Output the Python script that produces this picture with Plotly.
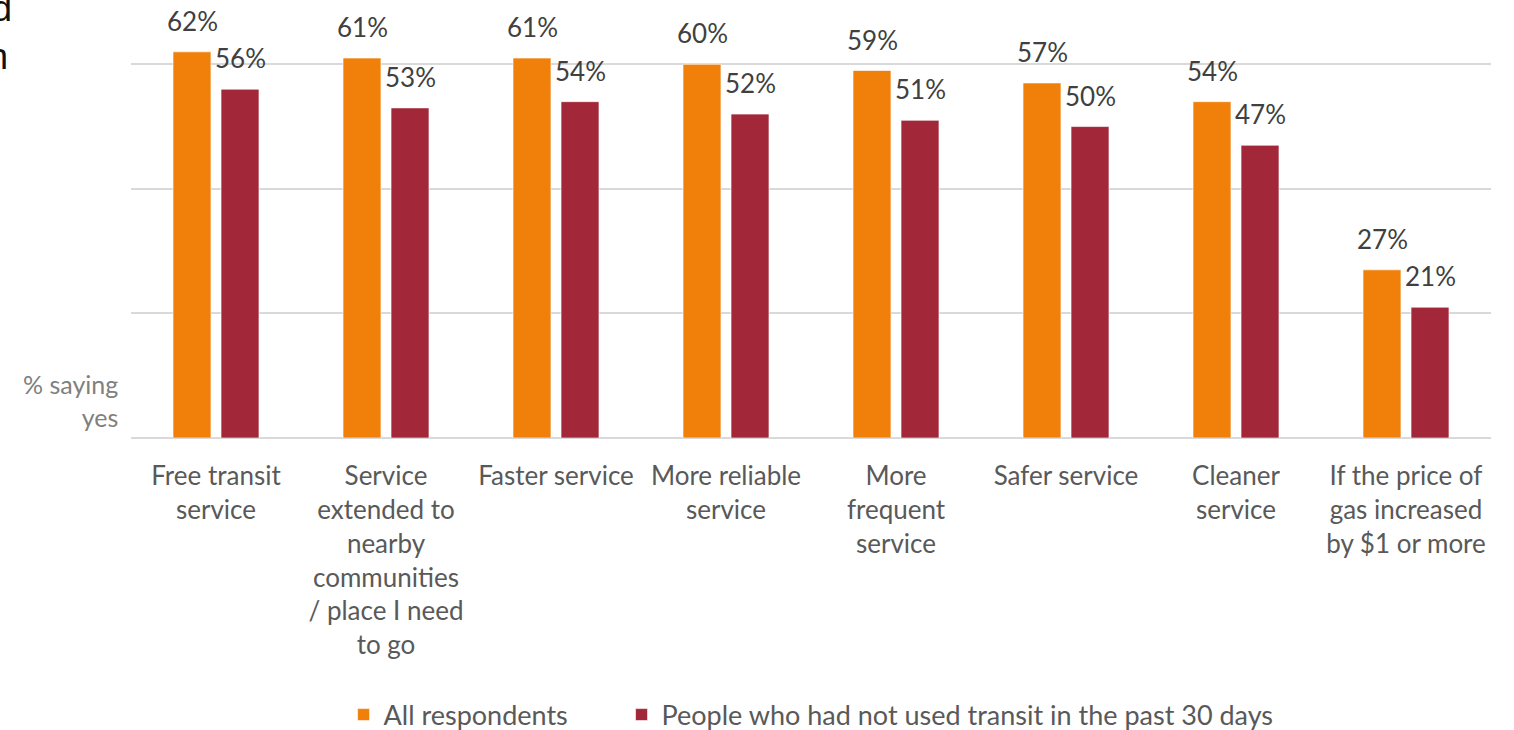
import plotly.graph_objects as go

categories = [
    "Free transit<br>service",
    "Service<br>extended to<br>nearby<br>communities<br>/ place I need<br>to go",
    "Faster service",
    "More reliable<br>service",
    "More<br>frequent<br>service",
    "Safer service",
    "Cleaner<br>service",
    "If the price of<br>gas increased<br>by $1 or more",
]
all_respondents = [62, 61, 61, 60, 59, 57, 54, 27]
non_users = [56, 53, 54, 52, 51, 50, 47, 21]
series_names = ["All respondents", "People who had not used transit in the past 30 days"]
colors = ["#F0800A", "#A12739"]

FONT = "Lato"
TXT = "#595959"

fig = go.Figure()
for name, vals, col, lg in zip(series_names, [all_respondents, non_users], colors, ["legend", "legend2"]):
    fig.add_trace(go.Bar(
        x=categories, y=vals, name=name, legend=lg,
        marker=dict(color=col, line=dict(color="rgba(255,255,255,0.6)", width=1)),
    ))

annotations = []
for vals, shift in [(all_respondents, -24), (non_users, 24)]:
    for c, v in zip(categories, vals):
        annotations.append(dict(
            x=c, y=v, xref="x", yref="y", text=f"{v}%", showarrow=False,
            xshift=shift, yshift=13, yanchor="bottom", xanchor="center",
            font=dict(family=FONT, size=26, color="#404040"),
        ))

# y-axis caption
annotations.append(dict(
    x=-0.008, y=0.085, xref="paper", yref="paper", text="% saying<br>yes",
    showarrow=False, xanchor="right", yanchor="middle", align="right",
    font=dict(family=FONT, size=25, color="#808080"),
))
# clipped title fragments at the left edge
annotations.append(dict(
    x=-0.086, y=0.984, xref="paper", yref="paper", text="d", showarrow=False,
    xanchor="right", yanchor="middle",
    font=dict(family="Liberation Sans", size=36, color="#111111"),
))
annotations.append(dict(
    x=-0.089, y=0.876, xref="paper", yref="paper", text="n", showarrow=False,
    xanchor="right", yanchor="middle",
    font=dict(family="Liberation Sans", size=36, color="#111111"),
))

legend_common = dict(orientation="h", xanchor="left", yref="container", y=0.0205,
                     yanchor="middle", font=dict(family=FONT, size=27, color=TXT),
                     bgcolor="rgba(0,0,0,0)")

fig.update_layout(
    width=1514, height=730,
    margin=dict(l=131, r=23, t=2, b=292),
    plot_bgcolor="white", paper_bgcolor="white",
    barmode="group", bargap=0.435, bargroupgap=0.21,
    font=dict(family=FONT, size=26, color=TXT),
    showlegend=True,
    legend=dict(x=0.1563, **legend_common),
    legend2=dict(x=0.3607, **legend_common),
    annotations=annotations,
    xaxis=dict(showline=False, showgrid=False, ticks="outside", ticklen=15,
               tickcolor="rgba(0,0,0,0)", tickangle=0, automargin=False,
               tickfont=dict(family=FONT, size=26, color=TXT)),
    yaxis=dict(range=[0, 70], dtick=20, showticklabels=False, showgrid=True,
               gridcolor="#D9D9D9", gridwidth=1.5, zeroline=True, automargin=False,
               zerolinecolor="#D9D9D9", zerolinewidth=1.5, fixedrange=True),
)

fig.write_html("out.html", config={"displayModeBar": False},
               post_script="document.body.style.margin='0';")
